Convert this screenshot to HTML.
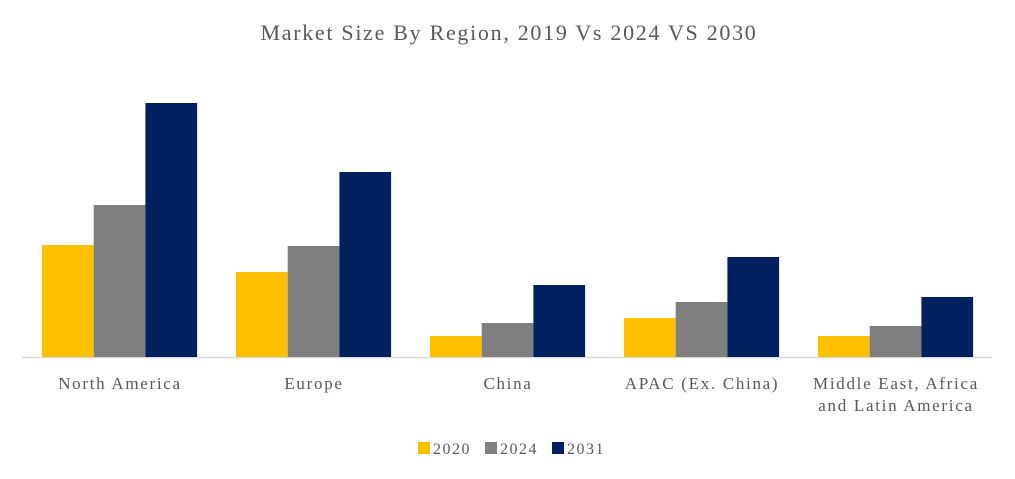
<!DOCTYPE html>
<html><head><meta charset="utf-8"><style>
html,body{margin:0;padding:0;background:#fff;}
svg{display:block;font-family:"Liberation Serif",serif;}
</style></head><body>
<svg id="chart" width="1015" height="479">
<text x="509" y="40" text-anchor="middle" font-size="22" letter-spacing="1.7" fill="#595959">Market Size By Region, 2019 Vs 2024 VS 2030</text>
<line x1="22" y1="357.5" x2="992" y2="357.5" stroke="#d9d9d9" stroke-width="1.5"/>
<g id="bars"></g><g id="labels"></g><g id="legend"></g>
</svg>
<script>
const categories=[["North America"],["Europe"],["China"],["APAC (Ex. China)"],["Middle East, Africa","and Latin America"]];
const seriesNames=["2020","2024","2031"];
const s2020=[112,85,21,39,21];
const s2024=[152,111,34,55,31];
const s2031=[254,185,72,100,60];
const colors=["#ffc000","#7f7f7f","#002060"];
const series=[s2020,s2024,s2031];
const ns="http://www.w3.org/2000/svg";
const x0=22,groupW=194,barW=51.7,off=20,base=357,ymax=260,plotH=260;
const y=v=>base-v/ymax*plotH;
const bars=document.getElementById('bars'),labels=document.getElementById('labels'),legend=document.getElementById('legend');
categories.forEach((c,i)=>{
  series.forEach((s,k)=>{
    const r=document.createElementNS(ns,'rect');
    r.setAttribute('x',x0+i*groupW+off+k*barW);
    r.setAttribute('y',y(s[i]));
    r.setAttribute('width',barW);
    r.setAttribute('height',base-y(s[i]));
    r.setAttribute('fill',colors[k]);
    
    
    bars.appendChild(r);
  });
  c.forEach((line,j)=>{
    const t=document.createElementNS(ns,'text');
    t.setAttribute('x',x0+i*groupW+groupW/2+1);
    t.setAttribute('y',389+j*22);
    t.setAttribute('text-anchor','middle');
    t.setAttribute('font-size','17');
    t.setAttribute('letter-spacing','1.7');
    t.setAttribute('fill','#595959');
    t.textContent=line;
    
    
    labels.appendChild(t);
  });
});
const lx=[418,485,552];
seriesNames.forEach((n,k)=>{
  const r=document.createElementNS(ns,'rect');
  r.setAttribute('x',lx[k]);r.setAttribute('y',442);r.setAttribute('width',12);r.setAttribute('height',12);
  r.setAttribute('fill',colors[k]);
  
  
  legend.appendChild(r);
  const t=document.createElementNS(ns,'text');
  t.setAttribute('x',lx[k]+15);t.setAttribute('y',454);t.setAttribute('font-size','16');t.setAttribute('letter-spacing','1.5');t.setAttribute('fill','#595959');
  t.textContent=n;
  
  
  legend.appendChild(t);
});
</script>
</body></html>
